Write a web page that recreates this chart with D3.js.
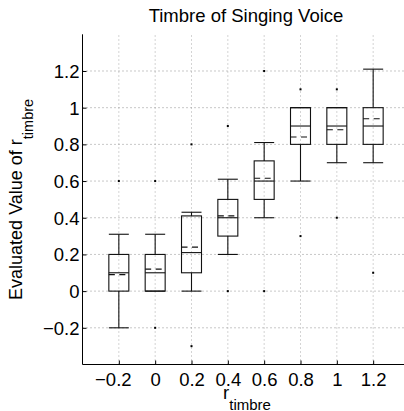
<!DOCTYPE html>
<html>
<head>
<meta charset="utf-8">
<script src="https://cdn.jsdelivr.net/npm/d3@7"></script>
<style>
  html, body { margin: 0; padding: 0; background: #fff; }
  svg { display: block; }
  text { font-family: "Liberation Sans", Arial, Helvetica, sans-serif; fill: #000; }
</style>
</head>
<body>
<svg id="chart" width="404" height="411"></svg>
<script>
// Box plot statistics per r_timbre level
const categories  = [-0.2, 0, 0.2, 0.4, 0.6, 0.8, 1, 1.2];
const whiskerLow  = [-0.2, 0,    0,    0.2, 0.4,  0.6,  0.7, 0.7];
const quartile1   = [ 0,   0,    0.1,  0.3, 0.5,  0.8,  0.8, 0.8];
const medians     = [ 0.1, 0.1,  0.21, 0.4, 0.6,  0.9,  0.9, 0.9];
const means       = [ 0.09,0.12, 0.24, 0.41,0.615,0.84, 0.88,0.94];
const quartile3   = [ 0.2, 0.2,  0.41, 0.5, 0.71, 1.0,  1.0, 1.0];
const whiskerHigh = [ 0.31,0.31, 0.43, 0.61,0.81, 1.0,  1.0, 1.21];

// Outlying evaluations
const outlierX = [-0.2, 0,   0,    0.2, 0.2,  0.4, 0.4, 0.6, 0.6, 0.8, 0.8, 1,   1,   1.2];
const outlierY = [ 0.6, 0.6, -0.2, 0.8, -0.3, 0.9, 0,   1.2, 0,   1.1, 0.3, 1.1, 0.4, 0.1];

const xTicks = [-0.2, 0, 0.2, 0.4, 0.6, 0.8, 1, 1.2];
const yTicks = [-0.2, 0, 0.2, 0.4, 0.6, 0.8, 1, 1.2];

const svg = d3.select("#chart");
const plotL = 82.5, plotR = 409.5, plotT = 34.3, plotB = 364.5;

const x = d3.scaleLinear().domain([-0.4, 1.4]).range([plotL, plotR]);
const y = d3.scaleLinear().domain([-0.4, 1.4]).range([plotB, plotT]);
const fmt = d => (d < 0 ? "\u2212" + Math.abs(d) : String(d));

// Dotted grid
const grid = svg.append("g").attr("stroke-width", 1).attr("stroke-dasharray", "1,3");
grid.selectAll("line.v").data(xTicks).join("line").attr("class", "v").attr("stroke", "#a8a8a8")
  .attr("x1", d => x(d)).attr("x2", d => x(d)).attr("y1", plotB).attr("y2", plotT);
grid.selectAll("line.h").data(yTicks).join("line").attr("class", "h").attr("stroke", "#909090")
  .attr("y1", d => y(d)).attr("y2", d => y(d)).attr("x1", plotL).attr("x2", plotR);

// Axes with inward ticks
const xAxis = svg.append("g").attr("transform", `translate(0,${plotB})`)
  .call(d3.axisBottom(x).tickValues(xTicks).tickSizeInner(-4).tickSizeOuter(0).tickFormat(fmt));
xAxis.select(".domain").attr("d", `M${plotL},0H${plotR}`).attr("stroke", "#000");
xAxis.selectAll(".tick line").attr("stroke", "#000");
xAxis.selectAll(".tick text").attr("font-size", 18.5).attr("y", 21.5).attr("dy", 0)
  .attr("dx", d => d < 0 ? -6 : 0);

const yAxis = svg.append("g").attr("transform", `translate(${plotL},0)`)
  .call(d3.axisLeft(y).tickValues(yTicks).tickSizeInner(-4).tickSizeOuter(0).tickFormat(fmt));
yAxis.select(".domain").attr("d", `M0,${plotT}V${plotB}`).attr("stroke", "#000");
yAxis.selectAll(".tick line").attr("stroke", "#000");
yAxis.selectAll(".tick text").attr("font-size", 18.5).attr("x", -3).attr("dy", "0.35em");
svg.selectAll("g").attr("font-family", null);

// Boxes
const half = (x(0.11) - x(0)) / 2;
const boxes = svg.append("g").attr("stroke", "#111").attr("stroke-width", 1.1).attr("fill", "none");
categories.forEach((c, i) => {
  const cx = x(c);
  const g = boxes.append("g");
  g.append("line").attr("x1", cx).attr("x2", cx).attr("y1", y(quartile3[i])).attr("y2", y(whiskerHigh[i]));
  g.append("line").attr("x1", cx).attr("x2", cx).attr("y1", y(quartile1[i])).attr("y2", y(whiskerLow[i]));
  g.append("line").attr("x1", cx - half).attr("x2", cx + half).attr("y1", y(whiskerHigh[i])).attr("y2", y(whiskerHigh[i]));
  g.append("line").attr("x1", cx - half).attr("x2", cx + half).attr("y1", y(whiskerLow[i])).attr("y2", y(whiskerLow[i]));
  g.append("rect").attr("x", cx - half).attr("width", 2 * half)
    .attr("y", y(quartile3[i])).attr("height", y(quartile1[i]) - y(quartile3[i]));
  g.append("line").attr("x1", cx - half).attr("x2", cx + half).attr("y1", y(medians[i])).attr("y2", y(medians[i]));
  g.append("line").attr("x1", cx - half).attr("x2", cx + half).attr("y1", y(means[i])).attr("y2", y(means[i]))
    .attr("stroke-dasharray", "6,4.5");
});

// Outliers
svg.append("g").selectAll("rect").data(outlierX).join("rect")
  .attr("x", (d) => x(d) - 1).attr("y", (d, i) => y(outlierY[i]) - 1)
  .attr("width", 2).attr("height", 2).attr("fill", "#000");

// Title
svg.append("text").attr("x", (plotL + plotR) / 2).attr("y", 22).attr("text-anchor", "middle")
  .attr("font-size", 18.5).text("Timbre of Singing Voice");

// X label
const xl = svg.append("text").attr("x", (plotL + plotR) / 2 + 1).attr("y", 399).attr("text-anchor", "middle")
  .attr("font-size", 18.5);
xl.append("tspan").text("r");
xl.append("tspan").attr("font-size", 15).attr("dy", 10.5).text("timbre");

// Y label
const yl = svg.append("text").attr("transform", `translate(22,${(plotT + plotB) / 2}) rotate(-90)`)
  .attr("text-anchor", "middle").attr("font-size", 18);
yl.append("tspan").text("Evaluated Value of r");
yl.append("tspan").attr("font-size", 14.5).attr("dy", 11).text("timbre");
</script>
</body>
</html>
